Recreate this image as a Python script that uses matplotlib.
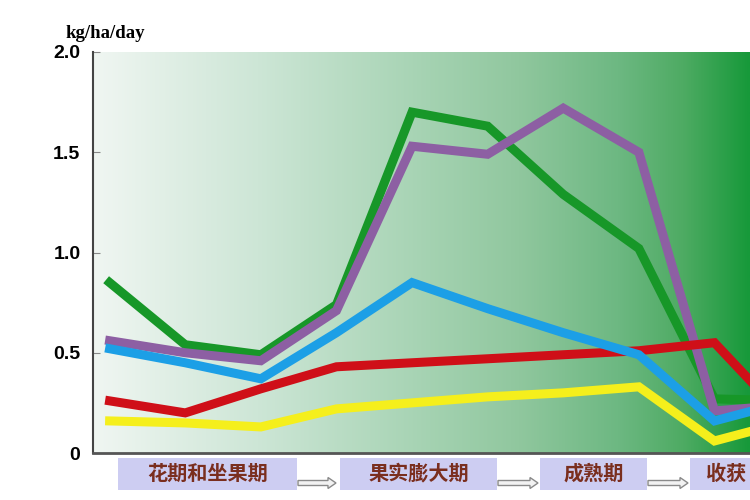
import matplotlib.pyplot as plt
import numpy as np
from matplotlib.colors import LinearSegmentedColormap
from matplotlib.patches import Rectangle, FancyArrow

plt.rcParams['font.family'] = ['Noto Sans CJK SC', 'DejaVu Sans']

# data (kg/ha/day), 10 sampling points
x = np.arange(10)
green = [0.85, 0.54, 0.49, 0.74, 1.70, 1.63, 1.29, 1.02, 0.27, 0.26]
purple = [0.56, 0.50, 0.46, 0.71, 1.53, 1.49, 1.72, 1.50, 0.21, 0.24]
blue = [0.52, 0.45, 0.37, 0.60, 0.85, 0.72, 0.60, 0.49, 0.16, 0.26]
red = [0.26, 0.20, 0.32, 0.43, 0.45, 0.47, 0.49, 0.51, 0.55, 0.15]
yellow = [0.16, 0.15, 0.13, 0.22, 0.25, 0.28, 0.30, 0.33, 0.06, 0.16]

yticks = [0, 0.5, 1.0, 1.5, 2.0]
yticklabels = ['0', '0.5', '1.0', '1.5', '2.0']
# last stage box runs off the right edge, only its first two characters show
stages = ['花期和坐果期', '果实膨大期', '成熟期', '收获']

fig = plt.figure(figsize=(7.5, 5), dpi=100)
ax = fig.add_axes([93 / 750, 47 / 500, 1 - 93 / 750, 401 / 500])

# background gradient
bg = LinearSegmentedColormap.from_list('bg', [
    (0.0, '#f0f6f2'), (0.25, '#cde6d6'), (0.5, '#a6d3b3'),
    (0.65, '#90c79e'), (0.8, '#6db882'), (0.9, '#4eab63'), (1.0, '#17993a')])
ax.imshow(np.linspace(0, 1, 256).reshape(1, -1), cmap=bg, aspect='auto',
          extent=[-0.22, 8.47, 0, 2.0], zorder=0)

lw = 6.5
ax.plot(x, yellow, color='#f5ef1c', lw=lw, solid_joinstyle='miter', zorder=2)
ax.plot(x, green, color='#179728', lw=lw, solid_joinstyle='miter', zorder=3)
ax.plot(x, purple, color='#8d5fa3', lw=lw, solid_joinstyle='miter', zorder=4)
ax.plot(x, red, color='#cf0f18', lw=lw, solid_joinstyle='miter', zorder=5)
ax.plot(x, blue, color='#1c9fe6', lw=lw, solid_joinstyle='miter', zorder=6)

ax.set_xlim(-0.22, 8.47)
ax.set_ylim(0, 2.0)
ax.set_xticks([])
ax.set_yticks(yticks)
ax.set_yticklabels(yticklabels, fontsize=14, fontweight='bold', family='Liberation Sans')
ax.tick_params(axis='y', direction='in', length=5, color='#888888', pad=9)
for s in ['top', 'right']:
    ax.spines[s].set_visible(False)
ax.spines['left'].set_color('#444444')
ax.spines['bottom'].set_color('#555555')
ax.spines['left'].set_linewidth(1.5)
ax.spines['bottom'].set_linewidth(2)

fig.text(65 / 750, 1 - 33 / 500, 'kg/ha/day', fontsize=13.5, fontweight='bold',
         family='Liberation Serif', va='center', ha='left')

# stage boxes along the bottom
boxes = [(118, 297), (340, 497), (540, 647), (690, 800)]
for (x0, x1), name in zip(boxes, stages):
    fig.patches.append(Rectangle((x0 / 750, 10 / 500), (x1 - x0) / 750, 32 / 500,
                                 transform=fig.transFigure, facecolor='#cdcdf2',
                                 edgecolor='none'))
    if x1 > 750:
        fig.text(706 / 750, 1 - 473 / 500, name, fontsize=14.5, fontweight='bold',
                 color='#7a2e1e', ha='left', va='center')
    else:
        fig.text((x0 + x1) / 2 / 750, 1 - 473 / 500, name, fontsize=14.5,
                 fontweight='bold', color='#7a2e1e', ha='center', va='center')

for a0, a1 in [(298, 338), (498, 540), (648, 690)]:
    fig.patches.append(FancyArrow(
        a0 / 750, 1 - 483 / 500, (a1 - a0 - 2) / 750, 0, width=5 / 500,
        head_width=11 / 500, head_length=8 / 750, length_includes_head=True,
        transform=fig.transFigure, facecolor='#f2f2f2', edgecolor='#8a8a8a', lw=1))

fig.savefig('out.png', dpi=100)
